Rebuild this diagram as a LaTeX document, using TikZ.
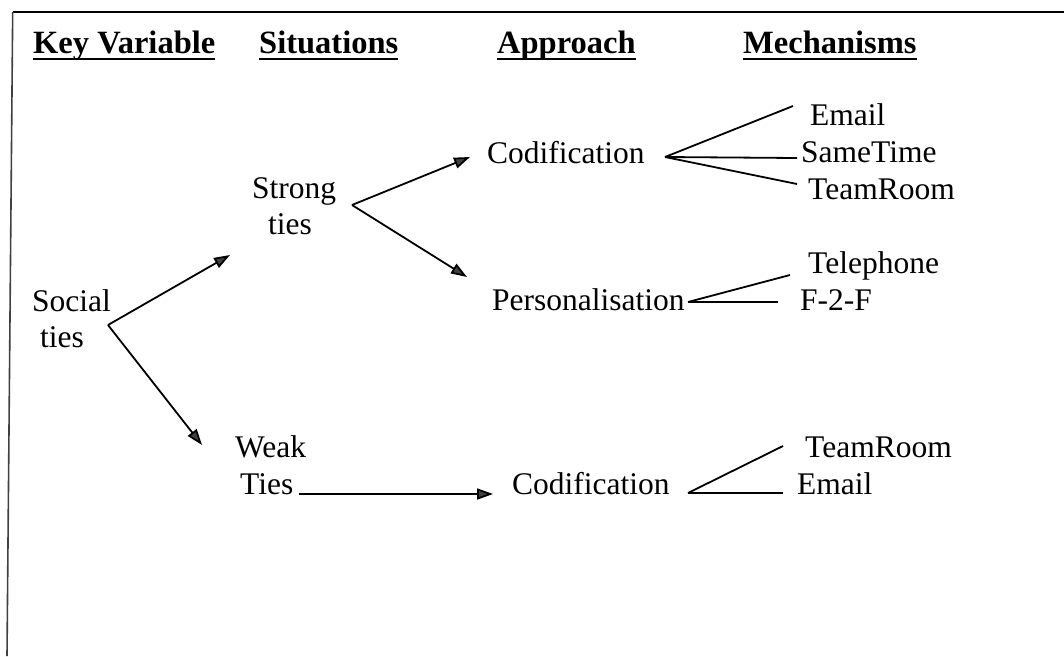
\documentclass[tikz,border=0pt]{standalone}
\usepackage{fontspec}
\setmainfont{Liberation Serif}
\usetikzlibrary{arrows.meta}
\begin{document}
\begin{tikzpicture}[x=1pt,y=-1pt,
  lbl/.style={anchor=base west,inner sep=0pt,font=\fontsize{31.5}{36}\selectfont},
  hdr/.style={anchor=base west,inner sep=0pt,font=\fontsize{32.5}{36}\selectfont\bfseries},
  uline/.style={line width=2pt},
  arr/.style={line width=1.8pt,-{Triangle[length=16pt,width=11pt,fill=black!75]}},
  link/.style={line width=1.8pt}]
\useasboundingbox (0,0) rectangle (1064,656);
% frame
\draw[line width=1.8pt] (12.7,12) -- (1064,12);
\draw[line width=1.6pt,black!75] (12.7,12) -- (7,656);

% column headings
\node[hdr] (hkey) at (33,53) {Key Variable};
\node[hdr] (hsit) at (259,53) {Situations};
\node[hdr] (happ) at (497,53) {Approach};
\node[hdr] (hmec) at (743,53) {Mechanisms};
\foreach \h in {hkey,hsit,happ,hmec}
  \draw[uline] ([yshift=-6pt]\h.base west) -- ([yshift=-6pt]\h.base east);

% key variable
\node[lbl] (social) at (32,311) {Social};
\node[lbl] (socialb) at (40,347) {ties};

% situations
\node[lbl] (strong) at (252,198) {Strong};
\node[lbl] (strongb) at (268,234) {ties};
\node[lbl] (weak) at (235,457) {Weak};
\node[lbl] (weakb) at (240,494) {Ties};

% approach
\node[lbl] (codA) at (487,163) {Codification};
\node[lbl] (pers) at (492,310) {Personalisation};
\node[lbl] (codB) at (512,494) {Codification};

% mechanisms
\node[lbl] (emailA) at (810,125) {Email};
\node[lbl] (sameA) at (801,162) {SameTime};
\node[lbl] (teamA) at (808,199) {TeamRoom};
\node[lbl] (phone) at (808,273) {Telephone};
\node[lbl] (ftf) at (800,310) {F-2-F};
\node[lbl] (teamB) at (805,457) {TeamRoom};
\node[lbl] (emailB) at (797,494) {Email};

% fork points and connector ends
\coordinate (socV) at (108,325);
\coordinate (strongIn) at (230,255);
\coordinate (weakIn) at (202,445);
\coordinate (strongV) at (352,205);
\coordinate (codAIn) at (470,157);
\coordinate (persIn) at (467,277);
\coordinate (tiesOut) at (299,494);
\coordinate (codBIn) at (493,494);
\coordinate (codAV) at (665,157);
\coordinate (emailAEnd) at (793,106);
\coordinate (sameAEnd) at (797,158);
\coordinate (teamAEnd) at (797,184);
\coordinate (persV) at (688,302);
\coordinate (phoneEnd) at (790,275);
\coordinate (ftfEnd) at (778,302);
\coordinate (codBV) at (688,493);
\coordinate (teamBEnd) at (783,446);
\coordinate (emailBEnd) at (783,493);

% arrows
\draw[arr] (socV) -- (strongIn);
\draw[arr] (socV) -- (weakIn);
\draw[arr] (strongV) -- (codAIn);
\draw[arr] (strongV) -- (persIn);
\draw[arr] (tiesOut) -- (codBIn);

% mechanism links
\draw[link] (codAV) -- (emailAEnd);
\draw[link] (codAV) -- (sameAEnd);
\draw[link] (codAV) -- (teamAEnd);
\draw[link] (persV) -- (phoneEnd);
\draw[link] (persV) -- (ftfEnd);
\draw[link] (codBV) -- (teamBEnd);
\draw[link] (codBV) -- (emailBEnd);
\end{tikzpicture}
\end{document}
